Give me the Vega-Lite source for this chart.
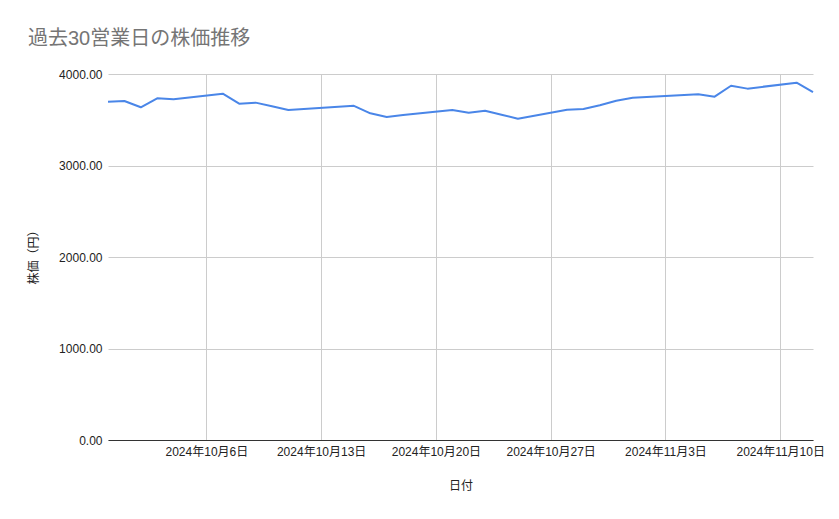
{
  "$schema": "https://vega.github.io/schema/vega-lite/v6.json",
  "width": 705,
  "height": 366,
  "autosize": "none",
  "padding": {"left": 108, "top": 74, "right": 26, "bottom": 79},
  "background": "white",
  "config": {
    "font": "Liberation Sans, Noto Sans CJK JP",
    "view": {"stroke": null}
  },
  "title": {
    "text": "過去30営業日の株価推移",
    "anchor": "start",
    "frame": "group",
    "dx": -80,
    "offset": 19,
    "fontSize": 20,
    "fontWeight": "normal",
    "color": "#757575",
    "font": "Liberation Sans, Noto Sans CJK JP"
  },
  "data": {
    "values": [
      {"date": "2024-09-30", "price": 3697},
      {"date": "2024-10-01", "price": 3705},
      {"date": "2024-10-02", "price": 3636},
      {"date": "2024-10-03", "price": 3734},
      {"date": "2024-10-04", "price": 3723},
      {"date": "2024-10-07", "price": 3785},
      {"date": "2024-10-08", "price": 3676},
      {"date": "2024-10-09", "price": 3687},
      {"date": "2024-10-10", "price": 3648},
      {"date": "2024-10-11", "price": 3607},
      {"date": "2024-10-15", "price": 3652},
      {"date": "2024-10-16", "price": 3570},
      {"date": "2024-10-17", "price": 3530},
      {"date": "2024-10-18", "price": 3552},
      {"date": "2024-10-21", "price": 3607},
      {"date": "2024-10-22", "price": 3577},
      {"date": "2024-10-23", "price": 3599},
      {"date": "2024-10-24", "price": 3554},
      {"date": "2024-10-25", "price": 3512},
      {"date": "2024-10-28", "price": 3610},
      {"date": "2024-10-29", "price": 3617},
      {"date": "2024-10-30", "price": 3658},
      {"date": "2024-10-31", "price": 3708},
      {"date": "2024-11-01", "price": 3741},
      {"date": "2024-11-05", "price": 3778},
      {"date": "2024-11-06", "price": 3752},
      {"date": "2024-11-07", "price": 3872},
      {"date": "2024-11-08", "price": 3840},
      {"date": "2024-11-11", "price": 3905},
      {"date": "2024-11-12", "price": 3803}
    ]
  },
  "mark": {"type": "line", "color": "#4a86e8", "strokeWidth": 2, "strokeJoin": "round"},
  "encoding": {
    "x": {
      "field": "date",
      "type": "temporal",
      "scale": {
        "type": "utc",
        "domain": [
          {"year": 2024, "month": 9, "date": 30, "utc": true},
          {"year": 2024, "month": 11, "date": 12, "utc": true}
        ]
      },
      "axis": {
        "title": "日付",
        "values": [
          {"year": 2024, "month": 10, "date": 6, "utc": true},
          {"year": 2024, "month": 10, "date": 13, "utc": true},
          {"year": 2024, "month": 10, "date": 20, "utc": true},
          {"year": 2024, "month": 10, "date": 27, "utc": true},
          {"year": 2024, "month": 11, "date": 3, "utc": true},
          {"year": 2024, "month": 11, "date": 10, "utc": true}
        ],
        "format": "%Y年%-m月%-d日",
        "labelFontSize": 12,
        "labelColor": "#222222",
        "labelPadding": 6,
        "labelOverlap": false,
        "labelFlush": false,
        "ticks": false,
        "domain": true,
        "domainColor": "#333333",
        "domainWidth": 1,
        "grid": true,
        "gridColor": "#cccccc",
        "titleFontSize": 12,
        "titleFontWeight": "normal",
        "titleColor": "#222222",
        "titlePadding": 23
      }
    },
    "y": {
      "field": "price",
      "type": "quantitative",
      "scale": {"domain": [0, 4000], "nice": false, "zero": true},
      "axis": {
        "title": "株価（円）",
        "values": [0, 1000, 2000, 3000, 4000],
        "format": ".2f",
        "labelFontSize": 12,
        "labelColor": "#222222",
        "labelPadding": 6,
        "ticks": false,
        "domain": false,
        "grid": true,
        "gridColor": "#cccccc",
        "titleFontSize": 12,
        "titleFontWeight": "normal",
        "titleColor": "#222222",
        "titleAngle": -90,
        "titleX": -75,
        "titleY": 180,
        "titleAlign": "center",
        "titleBaseline": "middle"
      }
    }
  }
}
